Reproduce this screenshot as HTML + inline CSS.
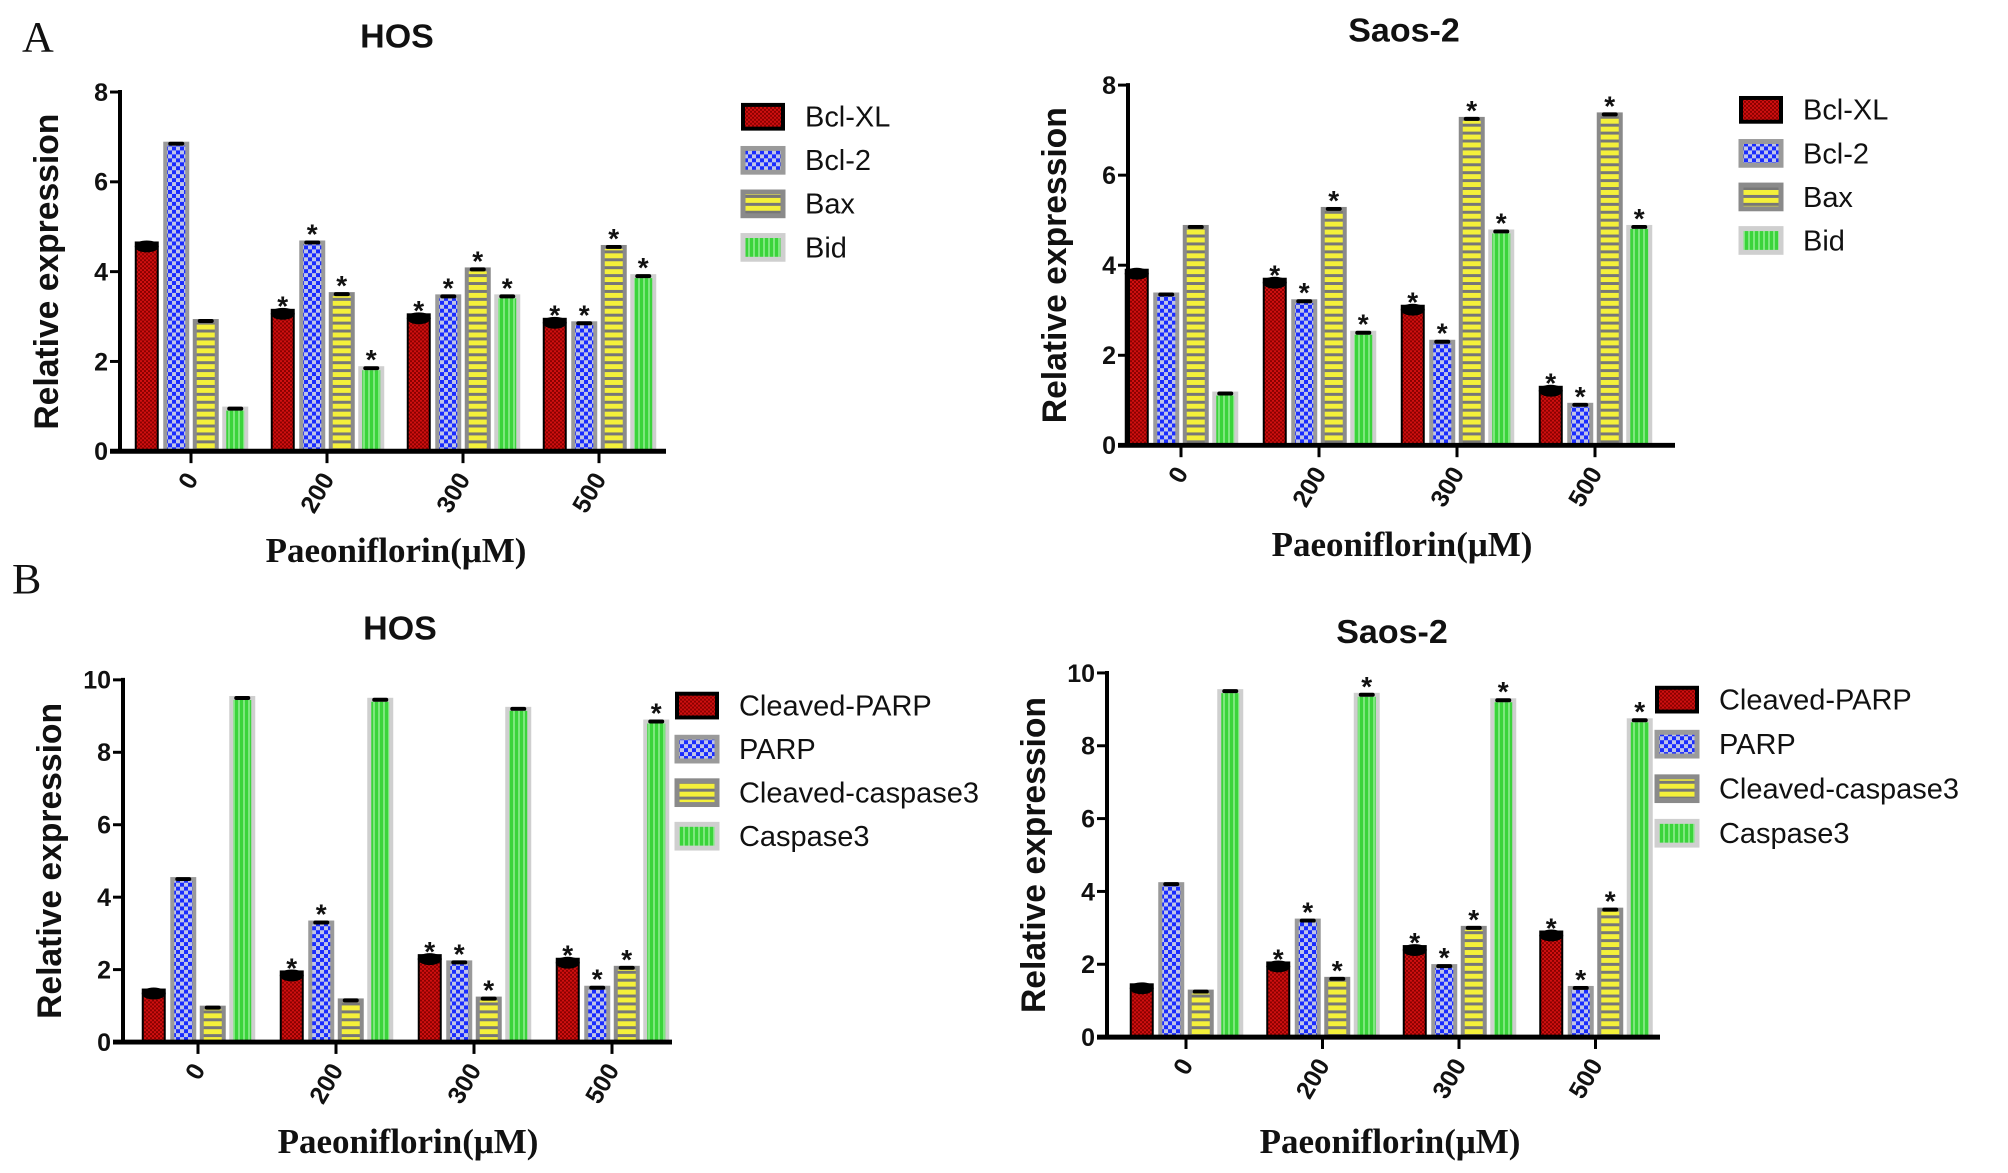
<!DOCTYPE html>
<html><head><meta charset="utf-8"><style>
html,body{margin:0;padding:0;background:#fff;}
svg{display:block;}
.tk{font:bold 25px "Liberation Sans",sans-serif;fill:#111;}
.ttl{font:bold 34px "Liberation Sans",sans-serif;fill:#111;}
.yl{font:bold 34px "Liberation Sans",sans-serif;fill:#111;}
.xl{font:bold 35px "Liberation Serif",serif;fill:#111;}
.lg{font:29px "Liberation Sans",sans-serif;fill:#111;}
.pl{font:44px "Liberation Serif",serif;fill:#111;}
.st{font:bold 28px "Liberation Sans",sans-serif;fill:#111;}
</style></head><body>
<svg width="2008" height="1173" viewBox="0 0 2008 1173" xmlns="http://www.w3.org/2000/svg">
<defs>
<pattern id="pRed" width="4" height="4" patternUnits="userSpaceOnUse"><rect width="4" height="4" fill="#8a0000"/><rect width="2" height="2" fill="#d01010"/><rect x="2" y="2" width="2" height="2" fill="#d01010"/></pattern>
<pattern id="pBlue" width="8" height="8" patternUnits="userSpaceOnUse"><rect width="8" height="8" fill="#bfc4e8"/><rect width="4" height="4" fill="#1a2cff"/><rect x="4" y="4" width="4" height="4" fill="#1a2cff"/></pattern>
<pattern id="pYel" width="6" height="8" patternUnits="userSpaceOnUse"><rect width="6" height="8" fill="#777"/><rect y="0" width="6" height="5" fill="#f4f03a"/></pattern>
<pattern id="pGrn" width="5" height="6" patternUnits="userSpaceOnUse"><rect width="5" height="6" fill="#3bd43b"/><rect x="3" width="2" height="6" fill="#7ee87e"/></pattern>
</defs>
<g id="fig" transform="scale(1,0.9896)">
<text class="pl" x="22" y="52">A</text>
<text class="pl" x="12" y="600">B</text>
</g>
</svg>
<script>
const groups=["0","200","300","500"];
const aHosBclxl=[4.65,3.15,3.05,2.95];
const aHosBcl2=[6.85,4.65,3.45,2.85];
const aHosBax=[2.9,3.5,4.05,4.55];
const aHosBid=[0.95,1.85,3.45,3.9];
const aSaosBclxl=[3.9,3.7,3.1,1.3];
const aSaosBcl2=[3.35,3.2,2.3,0.9];
const aSaosBax=[4.85,5.25,7.25,7.35];
const aSaosBid=[1.15,2.5,4.75,4.85];
const bHosCparp=[1.45,1.95,2.4,2.3];
const bHosParp=[4.5,3.3,2.2,1.5];
const bHosCcasp=[0.95,1.15,1.2,2.05];
const bHosCasp=[9.5,9.45,9.2,8.85];
const bSaosCparp=[1.45,2.05,2.5,2.9];
const bSaosParp=[4.2,3.2,1.95,1.35];
const bSaosCcasp=[1.25,1.6,3.0,3.5];
const bSaosCasp=[9.5,9.4,9.25,8.7];
const aHosStars=[[0,0,0,0],[1,1,1,1],[1,1,1,1],[1,1,1,1]];
const aSaosStars=[[0,0,0,0],[1,1,1,1],[1,1,1,1],[1,1,1,1]];
const bHosStars=[[0,0,0,0],[1,1,0,0],[1,1,1,0],[1,1,1,1]];
const bSaosStars=[[0,0,0,0],[1,1,1,1],[1,1,1,1],[1,1,1,1]];
const legendA=["Bcl-XL","Bcl-2","Bax","Bid"];
const legendB=["Cleaved-PARP","PARP","Cleaved-caspase3","Caspase3"];
const ticksA=[0,2,4,6,8];
const ticksB=[0,2,4,6,8,10];

const NS="http://www.w3.org/2000/svg";
const svg=document.getElementById('fig');
const fills=["url(#pRed)","url(#pBlue)","url(#pYel)","url(#pGrn)"];
const strokes=["#000","#9a9a9a","#8a8a8a","#cfcfcf"];
function mk(tag,attrs,parent){const e=document.createElementNS(NS,tag);for(const k in attrs)e.setAttribute(k,attrs[k]);(parent||svg).appendChild(e);return e;}

function chart(c){
  const g=mk('g',{});
  
  
  const yS=v=>c.y0-(c.y0-c.yTop)*v/c.max;
  const xS=i=>c.t0+i*c.gap;
  const t=mk('text',{x:c.tx,y:c.ty,'text-anchor':'middle',class:'ttl'},g);t.textContent=c.title;
  
  const yl=mk('text',{x:0,y:0,'text-anchor':'middle',class:'yl',transform:`translate(${c.ax-62},${(c.y0+c.yTop)/2}) rotate(-90)`},g);
  yl.textContent='Relative expression';
  
  c.series.forEach((s,si)=>{
    s.forEach((v,gi)=>{
      const cx=xS(gi)+(si-1.5)*c.bs;
      const y=yS(v);
      const r=mk('rect',{x:cx-c.bw/2,y:y,width:c.bw,height:c.y0-y,fill:fills[si],stroke:strokes[si],'stroke-width':si==0?2:4},g);
      
      
      if(si==0){const cap=mk('ellipse',{cx:cx,cy:y+4,rx:c.bw/2+1,ry:6,fill:'#000'},g);}
      else{const cap=mk('rect',{x:cx-c.bw/2+3,y:y-2,width:c.bw-6,height:4,fill:'#000',rx:2},g);}
      if(c.stars[gi][si]){const st=mk('text',{x:cx,y:y+(si==0?2:-3)+4,'text-anchor':'middle',class:'st'},g);st.textContent='*';
        }
    });
  });
  const ya=mk('line',{x1:c.ax,y1:c.yTop-2,x2:c.ax,y2:c.y0+2,stroke:'#000','stroke-width':4},g);
  
  const xa=mk('line',{x1:c.ax-10,y1:c.y0,x2:c.xEnd,y2:c.y0,stroke:'#000','stroke-width':5},g);
  
  c.ticks.forEach(v=>{
    mk('line',{x1:c.ax-10,y1:yS(v),x2:c.ax,y2:yS(v),stroke:'#000','stroke-width':3},g);
    const tl=mk('text',{x:c.ax-12,y:yS(v)+9,'text-anchor':'end',class:'tk'},g);tl.textContent=v;
    
  });
  groups.forEach((lab,gi)=>{
    const x=xS(gi);
    mk('line',{x1:x,y1:c.y0,x2:x,y2:c.y0+12,stroke:'#000','stroke-width':3},g);
    const tl=mk('text',{x:0,y:0,'text-anchor':'end',class:'tk',transform:`translate(${x+8},${c.y0+28}) rotate(-60)`},g);tl.textContent=lab;
    
  });
  const xt=mk('text',{x:c.xtx,y:c.xty,'text-anchor':'middle',class:'xl'},g);xt.textContent='Paeoniflorin(μM)';
  
  c.legend.forEach((name,i)=>{
    const y=c.ly+i*c.lgap;
    const sw=mk('rect',{x:c.lx,y:y-12,width:40,height:24,fill:fills[i],stroke:strokes[i],'stroke-width':i==0?4:5},g);
    
    const lt=mk('text',{x:c.lx+62,y:y+10,class:'lg'},g);lt.textContent=name;
    
  });
}
chart({name:'chart-a-hos',title:'HOS',tx:397,ty:48,ax:120,y0:456,yTop:93,max:8,ticks:ticksA,t0:191,gap:136,bs:29.5,bw:22,xEnd:666,
  series:[aHosBclxl,aHosBcl2,aHosBax,aHosBid],stars:aHosStars,legend:legendA,lx:743,ly:118,lgap:44,xtx:396,xty:568});
chart({name:'chart-a-saos2',title:'Saos-2',tx:1404,ty:42,ax:1128,y0:450,yTop:86,max:8,ticks:ticksA,t0:1181,gap:138,bs:29.5,bw:22,xEnd:1675,
  series:[aSaosBclxl,aSaosBcl2,aSaosBax,aSaosBid],stars:aSaosStars,legend:legendA,lx:1741,ly:111,lgap:44,xtx:1402,xty:562});
chart({name:'chart-b-hos',title:'HOS',tx:400,ty:646,ax:123,y0:1053,yTop:687,max:10,ticks:ticksB,t0:198,gap:138,bs:29.5,bw:22,xEnd:672,
  series:[bHosCparp,bHosParp,bHosCcasp,bHosCasp],stars:bHosStars,legend:legendB,lx:677,ly:713,lgap:44,xtx:408,xty:1165});
chart({name:'chart-b-saos2',title:'Saos-2',tx:1392,ty:650,ax:1107,y0:1048,yTop:680,max:10,ticks:ticksB,t0:1186,gap:136.5,bs:29.5,bw:22,xEnd:1660,
  series:[bSaosCparp,bSaosParp,bSaosCcasp,bSaosCasp],stars:bSaosStars,legend:legendB,lx:1657,ly:707,lgap:45,xtx:1390,xty:1165});
</script>
</body></html>
